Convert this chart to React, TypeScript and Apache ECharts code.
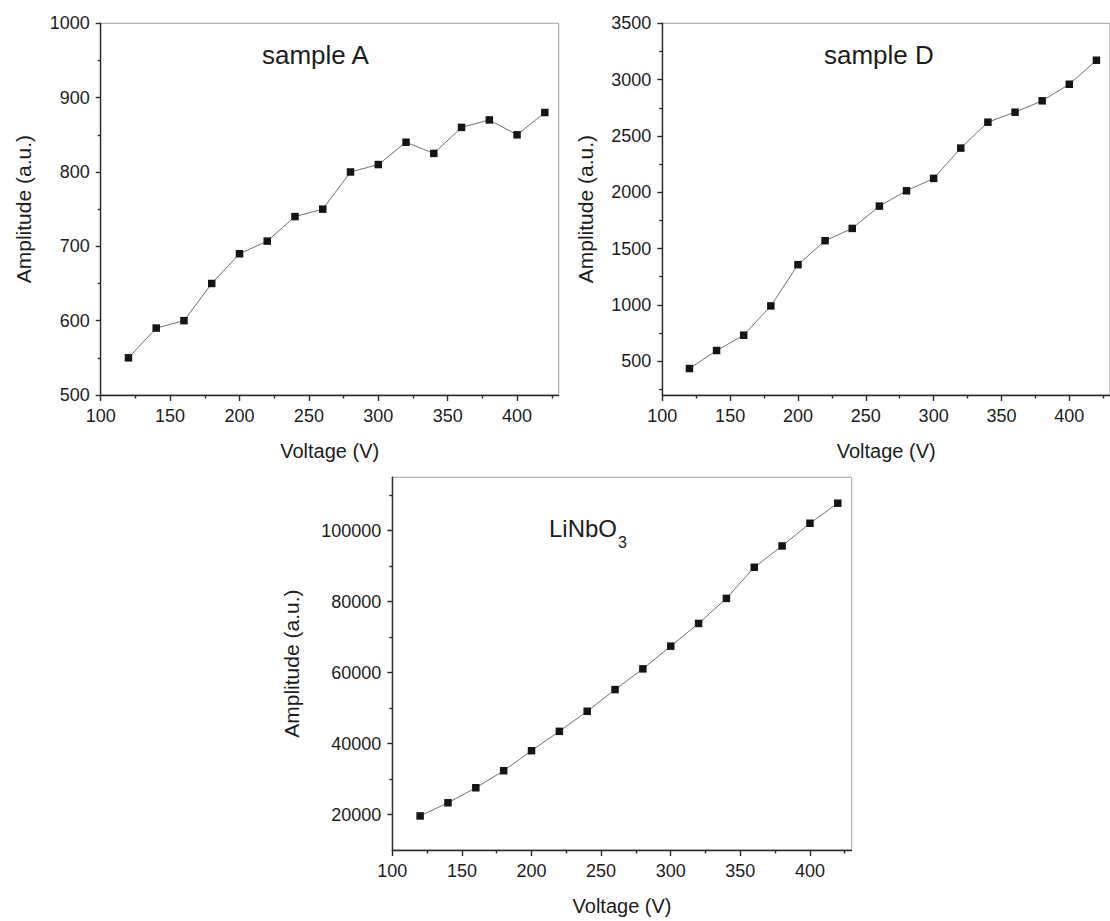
import React, { useEffect, useRef } from "react";
import * as echarts from "echarts";

const voltage = [120, 140, 160, 180, 200, 220, 240, 260, 280, 300, 320, 340, 360, 380, 400, 420];
const sampleA = [550, 590, 600, 650, 690, 707, 740, 750, 800, 810, 840, 825, 860, 870, 850, 880];
const sampleD = [435, 595, 731, 991, 1357, 1570, 1679, 1877, 2013, 2123, 2392, 2622, 2711, 2812, 2959, 3172];
const linbo3 = [19600, 23300, 27530, 32330, 37970, 43430, 49080, 55190, 61030, 67430, 73830, 80880, 89650, 95660, 102050, 107700];

const xMajorTicks = [100, 150, 200, 250, 300, 350, 400];
const xMinorTicks = [125, 175, 225, 275, 325, 375, 425];
const aYTicks = [500, 600, 700, 800, 900, 1000];
const aYMinor = [550, 650, 750, 850, 950];
const dYTicks = [500, 1000, 1500, 2000, 2500, 3000, 3500];
const dYMinor = [250, 750, 1250, 1750, 2250, 2750, 3250];
const lYTicks = [20000, 40000, 60000, 80000, 100000];
const lYMinor = [30000, 50000, 70000, 90000, 110000];

const FONT = "Liberation Sans, Arial, sans-serif";
const AXIS_COLOR = "#2a2a2a";
const TEXT_COLOR = "#1c1c1c";

export default function App() {
  const ref = useRef<HTMLDivElement>(null);

  useEffect(() => {
    document.body.style.margin = "0";
    if (!ref.current) return;
    const chart = echarts.init(ref.current, null, { renderer: "svg" });

    const panels = [
      { left: 100.7, top: 23.3, width: 458, height: 371.7, yMin: 500, yMax: 1000, yTicks: aYTicks, yMinor: aYMinor, data: sampleA, yNameGap: 67, xNameGap: 46 },
      { left: 662.3, top: 23.3, width: 457.7, height: 371.7, yMin: 200, yMax: 3500, yTicks: dYTicks, yMinor: dYMinor, data: sampleD, yNameGap: 66, xNameGap: 46 },
      { left: 392.3, top: 477.3, width: 459.4, height: 372.7, yMin: 10000, yMax: 115000, yTicks: lYTicks, yMinor: lYMinor, data: linbo3, yNameGap: 90, xNameGap: 46 },
    ];

    const grid: any[] = [];
    const xAxis: any[] = [];
    const yAxis: any[] = [];
    const series: any[] = [];

    panels.forEach((p, i) => {
      grid.push({
        left: p.left, top: p.top, width: p.width, height: p.height,
        show: true, borderColor: "#a0a0a0", borderWidth: 1, backgroundColor: "transparent",
      });
      const lineStyle = { color: AXIS_COLOR, width: 1.4 };
      xAxis.push({
        type: "value", gridIndex: i, min: 100, max: 430, position: "bottom",
        name: "Voltage (V)", nameLocation: "middle", nameGap: p.xNameGap,
        nameTextStyle: { fontSize: 20, color: TEXT_COLOR, fontFamily: FONT },
        axisLine: { show: true, onZero: false, lineStyle },
        axisTick: { show: true, customValues: xMajorTicks, length: 6, lineStyle },
        axisLabel: { customValues: xMajorTicks, fontSize: 18, color: TEXT_COLOR, fontFamily: FONT, margin: 12, formatter: (v: number) => String(v) },
        splitLine: { show: false },
      });
      xAxis.push({
        type: "value", gridIndex: i, min: 100, max: 430, position: "bottom",
        axisLine: { show: false },
        axisTick: { show: true, customValues: xMinorTicks, length: 3.5, lineStyle },
        axisLabel: { show: false },
        splitLine: { show: false },
      });
      yAxis.push({
        type: "value", gridIndex: i, min: p.yMin, max: p.yMax, position: "left",
        name: "Amplitude (a.u.)", nameLocation: "middle", nameGap: p.yNameGap, nameRotate: 90,
        nameTextStyle: { fontSize: 21, color: TEXT_COLOR, fontFamily: FONT },
        axisLine: { show: true, onZero: false, lineStyle },
        axisTick: { show: true, customValues: p.yTicks, length: 5, lineStyle },
        axisLabel: { customValues: p.yTicks, fontSize: 18, color: TEXT_COLOR, fontFamily: FONT, margin: 11, formatter: (v: number) => String(v) },
        splitLine: { show: false },
      });
      yAxis.push({
        type: "value", gridIndex: i, min: p.yMin, max: p.yMax, position: "left",
        axisLine: { show: false },
        axisTick: { show: true, customValues: p.yMinor, length: 3, lineStyle },
        axisLabel: { show: false },
        splitLine: { show: false },
      });
      series.push({
        type: "line",
        xAxisIndex: 2 * i, yAxisIndex: 2 * i,
        data: voltage.map((x, k) => [x, p.data[k]]),
        symbol: "rect", symbolSize: 7.5,
        itemStyle: { color: "#151515" },
        lineStyle: { color: "#707070", width: 1 },
        clip: true,
      });
    });

    chart.setOption({
      animation: false,
      backgroundColor: "#ffffff",
      grid, xAxis, yAxis, series,
      graphic: [
        { type: "text", left: 262, top: 42, style: { text: "sample A", fontSize: 26, fill: TEXT_COLOR, fontFamily: FONT } },
        { type: "text", left: 824, top: 42, style: { text: "sample D", fontSize: 26, fill: TEXT_COLOR, fontFamily: FONT } },
        { type: "text", left: 549, top: 516, style: { text: "LiNbO", fontSize: 24, fill: TEXT_COLOR, fontFamily: FONT } },
        { type: "text", left: 618, top: 534, style: { text: "3", fontSize: 16, fill: TEXT_COLOR, fontFamily: FONT } },
      ],
    });

    return () => chart.dispose();
  }, []);

  return <div ref={ref} style={{ width: 1110, height: 921 }} />;
}
